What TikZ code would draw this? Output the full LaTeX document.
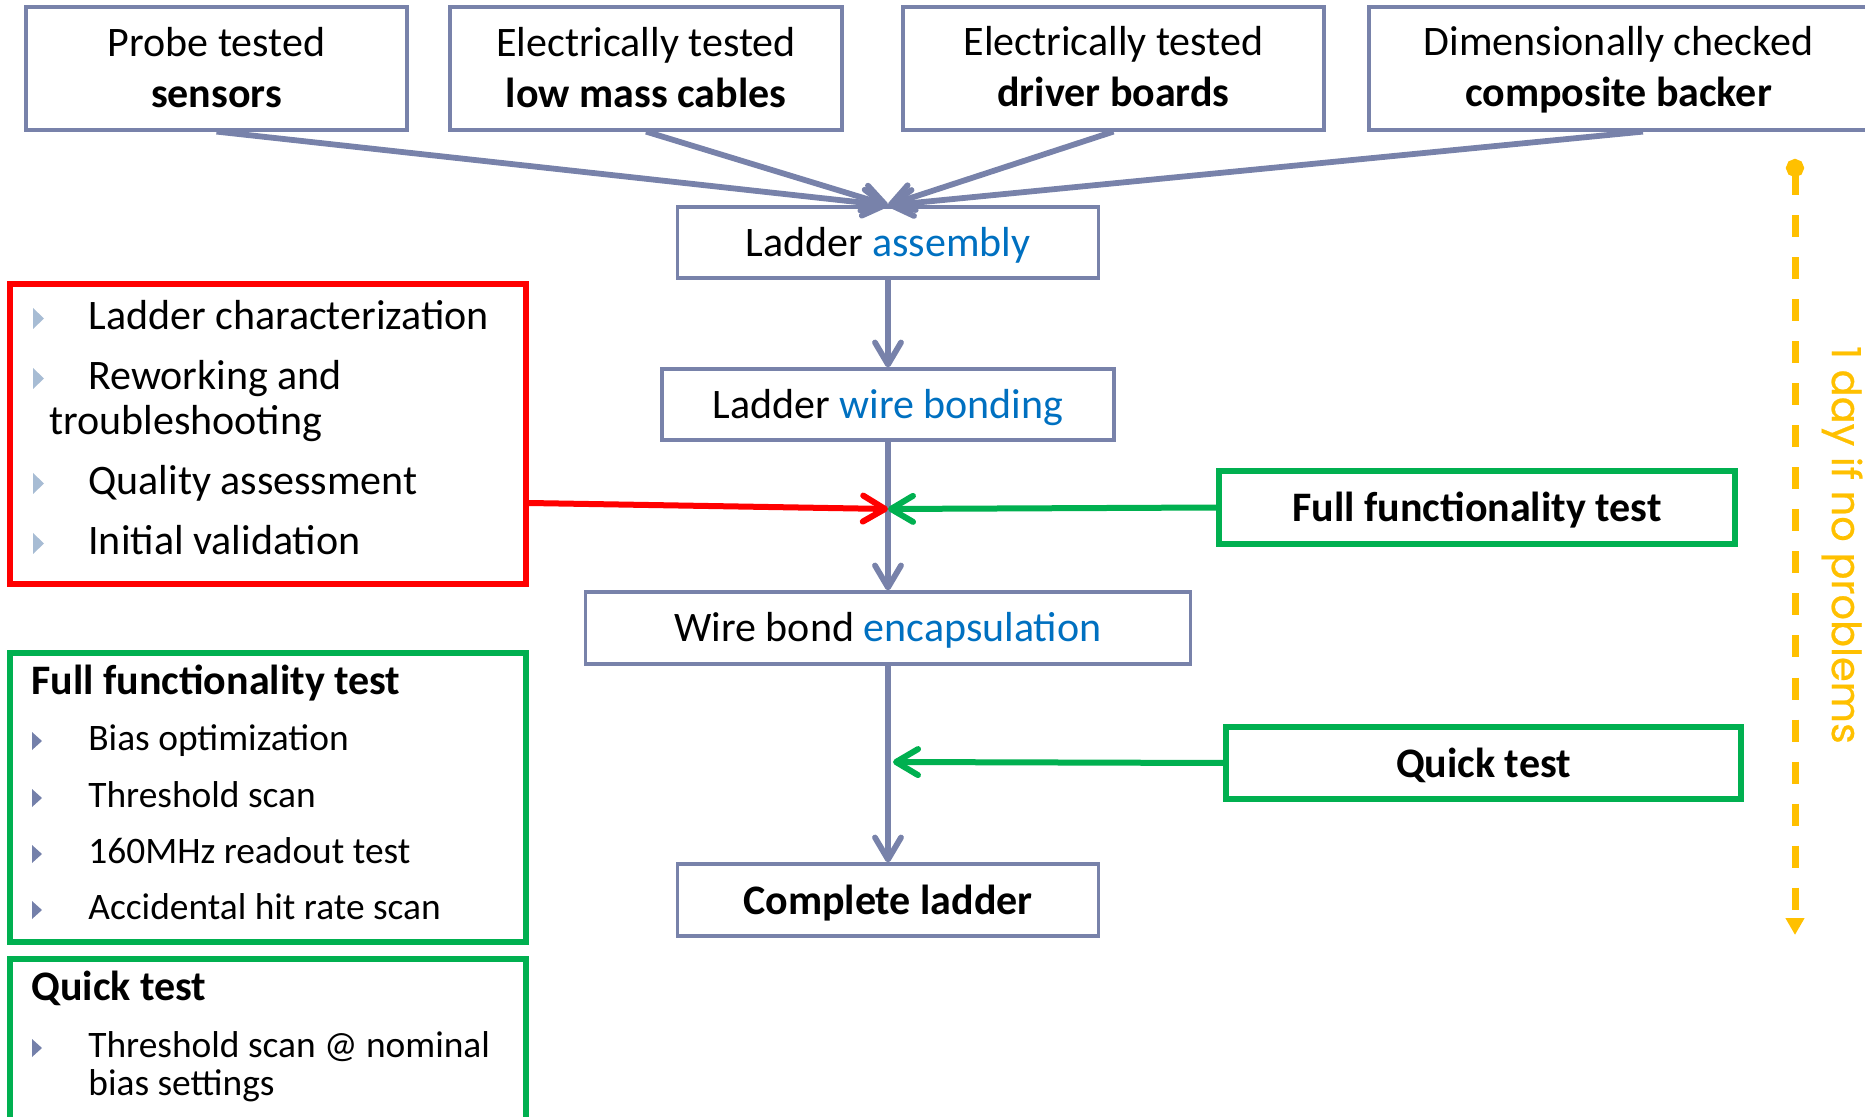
\documentclass[tikz,border=0pt]{standalone}
\usepackage{fontspec}
\setmainfont{Carlito}
\newfontfamily\geofont[FakeBold=0.6]{Poppins}
\usetikzlibrary{arrows.meta}

\definecolor{flowgray}{HTML}{7882AA}
\definecolor{okgreen}{HTML}{00B050}
\definecolor{alertred}{HTML}{FF0000}
\definecolor{linkblue}{HTML}{0070C0}
\definecolor{timegold}{HTML}{FFC000}
\definecolor{bulletpale}{HTML}{A7BCD4}
\definecolor{bulletdark}{HTML}{7480AA}

\begin{document}
\begin{tikzpicture}[x=0.5pt,y=-0.5pt,
  big/.style={font=\fontsize{21}{25.5}\selectfont},
  small/.style={font=\fontsize{18.7}{22}\selectfont},
  flowbox/.style={draw=flowgray, line width=1.6pt, rectangle, inner sep=0pt,
                  text height=14pt, text depth=0pt, big},
  greenbox/.style={draw=okgreen, line width=2.6pt, rectangle, inner sep=0pt},
  sidebox/.style={greenbox, text height=14pt, text depth=0pt, big},
  lbl/.style={anchor=base, inner sep=0pt, big},
  txt/.style={anchor=base west, inner sep=0pt, big},
  stxt/.style={anchor=base west, inner sep=0pt, small},
  barb/.style={-{Straight Barb[length=11pt,width=13pt,round]}},
  conn/.style={draw=flowgray, line width=2.9pt, barb},
  greenconn/.style={draw=okgreen, line width=3pt, barb},
  redconn/.style={draw=alertred, line width=3pt, barb},
  pics/palebullet/.style={code={\fill[bulletpale] (0,0) -- (11,-10.5) -- (0,-21) -- cycle;}},
  pics/darkbullet/.style={code={\fill[bulletdark] (0,0) -- (10,-9) -- (0,-18) -- cycle;}},
]
\useasboundingbox (0,0) rectangle (1865,1117);
\clip (0,0) rectangle (1865,1117);

% ---- incoming parts ----
\node[flowbox, minimum width=190.5pt, minimum height=61.5pt] (b1) at (216.5,68.5) {};
\node[flowbox, minimum width=196pt,   minimum height=61.5pt] (b2) at (646,68.5) {};
\node[flowbox, minimum width=210.5pt, minimum height=61.5pt] (b3) at (1113.5,68.5) {};
\node[flowbox, minimum width=249.5pt, minimum height=61.5pt] (b4) at (1618.5,68.5) {};

\node[lbl] (b1a) at (216.5,57)  {Probe tested};
\node[lbl] (b1b) at (216.5,108) {\textbf{sensors}};
\node[lbl] (b2a) at (646,57)    {Electrically tested};
\node[lbl] (b2b) at (646,108)   {\textbf{low mass cables}};
\node[lbl] (b3a) at (1113.5,56) {Electrically tested};
\node[lbl] (b3b) at (1113.5,107){\textbf{driver boards}};
\node[lbl] (b4a) at (1618.5,56) {Dimensionally checked};
\node[lbl] (b4b) at (1618.5,107){\textbf{composite backer}};

% ---- main flow ----
\node[flowbox, minimum width=210.5pt, minimum height=35.5pt] (la)  at (888,242.5)
  {Ladder \textcolor{linkblue}{assembly}};
\node[flowbox, minimum width=226pt,   minimum height=35.5pt] (wb)  at (888,404.5)
  {Ladder \textcolor{linkblue}{wire bonding}};
\node[flowbox, minimum width=302.5pt, minimum height=36pt]   (enc) at (888,628)
  {Wire bond \textcolor{linkblue}{encapsulation}};
\node[flowbox, minimum width=210.5pt, minimum height=36pt]   (cl)  at (888,900)
  {\textbf{Complete ladder}};

\draw[conn] (b1.south) -- (la.north);
\draw[conn] (b2.south) -- (la.north);
\draw[conn] (b3.south) -- (la.north);
\draw[conn] ([xshift=12.25pt]b4.south) -- (la.north);

\draw[conn] (la.south) -- (wb.north);
\draw[conn] (wb.south) -- (enc.north);
\draw[conn] (enc.south) -- (cl.north);

\coordinate (j1) at (888,509);
\coordinate (j2) at (893,762);

% ---- test steps on the right ----
\node[sidebox, minimum width=258pt,   minimum height=36.5pt] (ft) at (1477,507.5)
  {\textbf{Full functionality test}};
\node[sidebox, minimum width=257.5pt, minimum height=36pt]   (qt) at (1483.5,763)
  {\textbf{Quick test}};

\draw[greenconn] (ft.west) -- (j1);
\draw[greenconn] (qt.west) -- (j2);

% ---- rework loop ----
\node[draw=alertred, line width=2.6pt, rectangle, inner sep=0pt,
      minimum width=258pt, minimum height=150pt] (rb) at (268,434) {};
\draw[redconn] ([yshift=-34.5pt]rb.east) -- (j1);

\pic at (33,329) {palebullet};
\node[txt] (r1) at (88,330) {Ladder characterization};
\pic at (33,389) {palebullet};
\node[txt] (r2) at (88,390) {Reworking and};
\node[txt] (r3) at (49,435) {troubleshooting};
\pic at (33,494) {palebullet};
\node[txt] (r4) at (88,495) {Quality assessment};
\pic at (33,554) {palebullet};
\node[txt] (r5) at (88,555) {Initial validation};

% ---- test definitions ----
\node[greenbox, minimum width=258pt, minimum height=144.5pt] (gb1) at (268,797.5) {};
\node[txt] (g0) at (31,695) {\textbf{Full functionality test}};
\pic at (32,750) {darkbullet};
\node[stxt] (g1) at (88,750) {Bias optimization};
\pic at (32,807) {darkbullet};
\node[stxt] (g2) at (88,807) {Threshold scan};
\pic at (32,863) {darkbullet};
\node[stxt] (g3) at (88,863) {160MHz readout test};
\pic at (32,919) {darkbullet};
\node[stxt] (g4) at (88,919) {Accidental hit rate scan};

\node[greenbox, minimum width=258pt, minimum height=83pt] (gb2) at (268,1042) {};
\node[txt] (q0) at (31,1000) {\textbf{Quick test}};
\pic at (32,1057) {darkbullet};
\node[stxt] (q1) at (88,1057) {Threshold scan @ nominal};
\node[stxt] (q2) at (88,1095) {bias settings};

% ---- time line ----
\coordinate (dtop) at (1795,159);
\coordinate (dbot) at (1795,935);
\draw[timegold, line width=3.5pt, dash pattern=on 11pt off 10pt,
      {Circle[length=9pt]}-{Triangle[length=8.5pt,width=9pt]}] (dtop) -- (dbot);
\node[timegold, rotate=-90, inner sep=0pt, font=\geofont\fontsize{20}{24}\selectfont]
  (days) at (1842,545) {1 day if no problems};
\end{tikzpicture}
\end{document}
